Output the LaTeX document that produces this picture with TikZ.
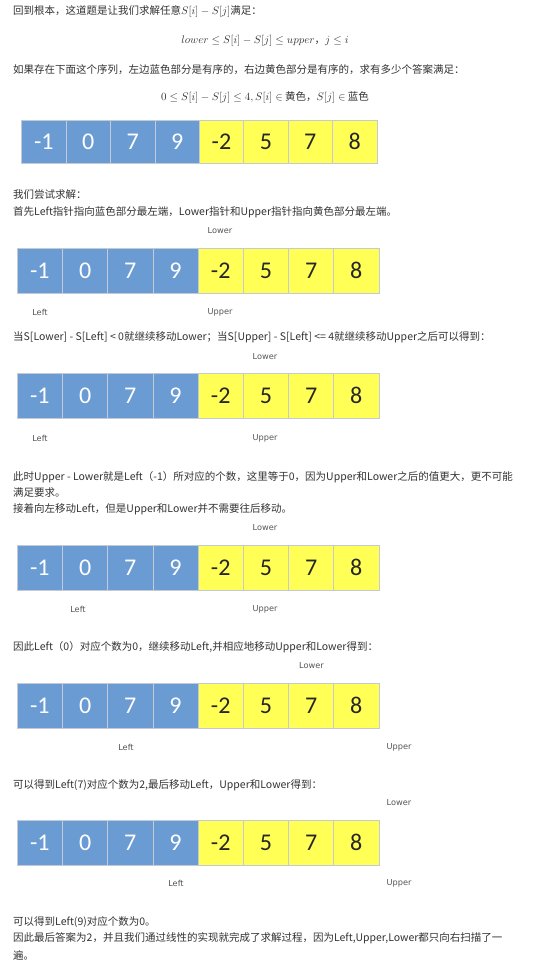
\documentclass[tikz,border=0pt]{standalone}
\usepackage[no-math]{fontspec}
\setmainfont{Noto Sans CJK SC}
\newfontfamily\numfont{Carlito}
\newfontfamily\lblfont{DejaVu Sans}
\definecolor{cellblue}{HTML}{6A9BD2}
\definecolor{cellyellow}{HTML}{FFFF55}
\definecolor{cellline}{HTML}{C3CAD5}
\definecolor{textgray}{HTML}{333333}
\definecolor{lblgray}{HTML}{555555}
\newcommand\cellrow[5]{%
  \foreach \v [count=\k] in {-1,0,7,9,-2,5,7,8}{%
    \ifnum\k<5
      \node[bluecell,minimum width=#4pt,minimum height=#5pt] (#1c\k) at ({#2+(\k-0.5)*#4},{#3+#5/2}) {\v};
    \else
      \node[yellowcell,minimum width=#4pt,minimum height=#5pt] (#1c\k) at ({#2+(\k-0.5)*#4},{#3+#5/2}) {\v};
    \fi
  }}
\begin{document}
\begin{tikzpicture}[x=1pt,y=-1pt,
  txt/.style={anchor=west,inner sep=0pt,text=textgray,font=\fontsize{10.5}{13}\selectfont},
  ctxt/.style={anchor=center,inner sep=0pt,text=textgray,font=\fontsize{10.5}{13}\selectfont},
  cell/.style={draw=cellline,line width=0.7pt,inner sep=0pt,outer sep=0pt,font=\numfont\fontsize{24}{24}\selectfont},
  bluecell/.style={cell,fill=cellblue,text=white},
  yellowcell/.style={cell,fill=cellyellow,text=black!85},
  lbl/.style={inner sep=0pt,text=lblgray,font=\lblfont\fontsize{8.2}{10}\selectfont}]
\fill[white] (0,0) rectangle (542,970);
\useasboundingbox (0,0) rectangle (542,970);

\node[txt] (t1) at (13,11) {回到根本，这道题是让我们求解任意$S[i]-S[j]$满足：};
\node[ctxt] (t2) at (265,41) {$lower \leq S[i]-S[j] \leq upper$，$j \leq i$};
\node[txt] (t3) at (13,70) {如果存在下面这个序列，左边蓝色部分是有序的，右边黄色部分是有序的，求有多少个答案满足：};
\node[ctxt] (t4) at (265,97) {$0 \leq S[i]-S[j] \leq 4, S[i] \in$ 黄色，$S[j] \in$ 蓝色};

\cellrow{A}{21.7}{120}{44.4}{43}

\node[txt] (t5) at (13,195) {我们尝试求解：};
\node[txt] (t6) at (13,212) {首先Left指针指向蓝色部分最左端，Lower指针和Upper指针指向黄色部分最左端。};

\node[lbl] (BLower) at (220,231) {Lower};
\cellrow{B}{17.3}{248}{45.2}{45}
\node[lbl] (BLeft) at (40,312) {Left};
\node[lbl] (BUpper) at (220,312) {Upper};

\node[txt] (t7) at (13,337) {当S[Lower] - S[Left] < 0就继续移动Lower；当S[Upper] - S[Left] <= 4就继续移动Upper之后可以得到：};

\node[lbl] (CLower) at (265,357) {Lower};
\cellrow{C}{17.3}{373}{45.2}{45}
\node[lbl] (CLeft) at (40,438) {Left};
\node[lbl] (CUpper) at (265,438) {Upper};

\node[txt] (t8) at (13,477) {此时Upper - Lower就是Left（-1）所对应的个数，这里等于0，因为Upper和Lower之后的值更大，更不可能};
\node[txt] (t9) at (13,493) {满足要求。};
\node[txt] (t10) at (13,509) {接着向左移动Left，但是Upper和Lower并不需要往后移动。};

\node[lbl] (DLower) at (265,528) {Lower};
\cellrow{D}{17.3}{545}{45.2}{45}
\node[lbl] (DLeft) at (78,609) {Left};
\node[lbl] (DUpper) at (265,609) {Upper};

\node[txt] (t11) at (13,647) {因此Left（0）对应个数为0，继续移动Left,并相应地移动Upper和Lower得到：};

\node[lbl] (ELower) at (311.5,666) {Lower};
\cellrow{E}{17.3}{683}{45.2}{45}
\node[lbl] (ELeft) at (126,747) {Left};
\node[lbl] (EUpper) at (399,747) {Upper};

\node[txt] (t12) at (13,785) {可以得到Left(7)对应个数为2,最后移动Left，Upper和Lower得到：};

\node[lbl] (FLower) at (399,803) {Lower};
\cellrow{F}{17.3}{820}{45.2}{45}
\node[lbl] (FLeft) at (176,883) {Left};
\node[lbl] (FUpper) at (399,883) {Upper};

\node[txt] (t13) at (13,922) {可以得到Left(9)对应个数为0。};
\node[txt] (t14) at (13,938) {因此最后答案为2，并且我们通过线性的实现就完成了求解过程，因为Left,Upper,Lower都只向右扫描了一};
\node[txt] (t15) at (13,955) {遍。};
\end{tikzpicture}
\end{document}
